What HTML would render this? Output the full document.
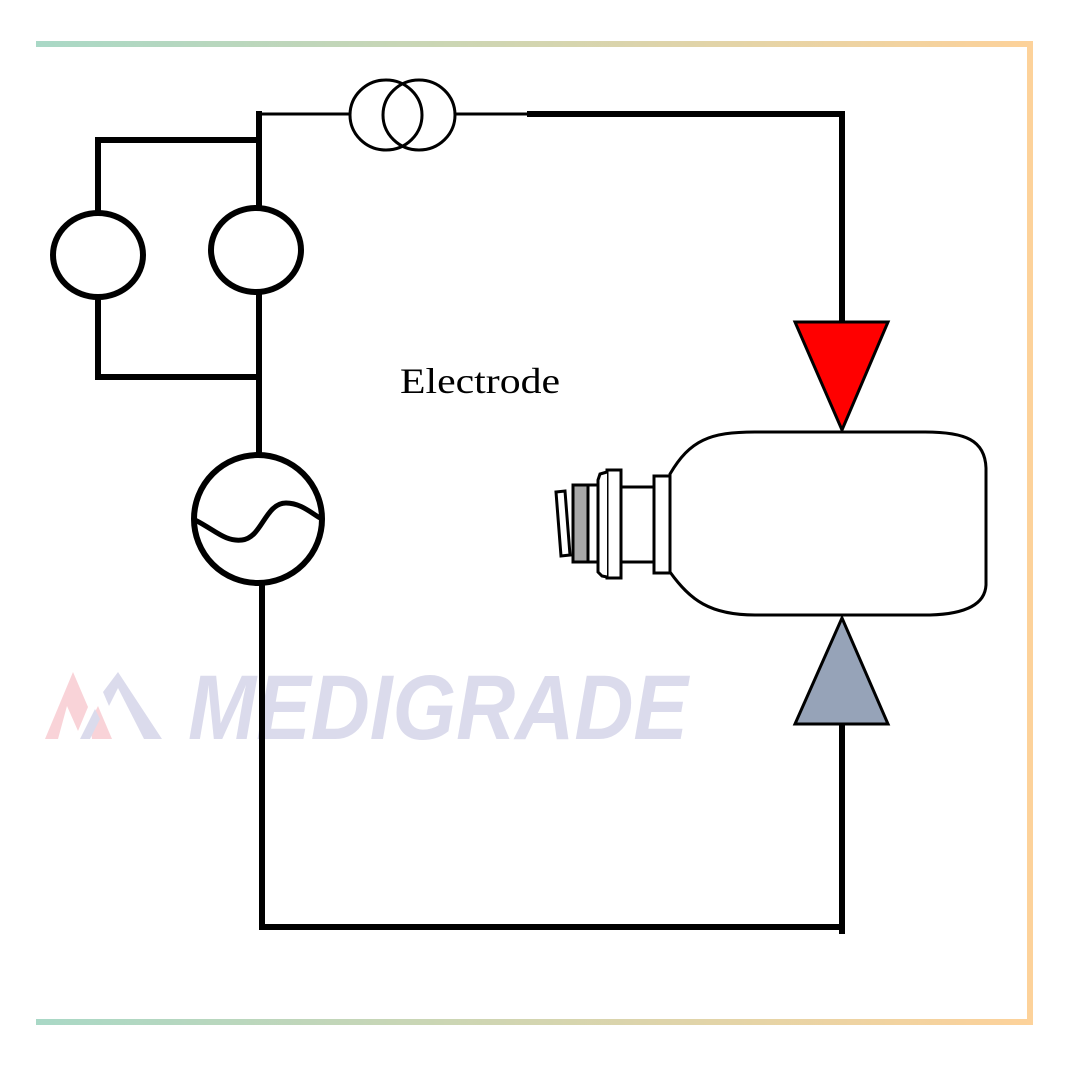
<!DOCTYPE html>
<html><head><meta charset="utf-8"><style>html,body{margin:0;padding:0;background:#fff}svg{display:block}</style></head>
<body>
<svg width="1080" height="1080" viewBox="0 0 1080 1080" xmlns="http://www.w3.org/2000/svg">
<defs>
<linearGradient id="g" x1="0" x2="1" y1="0" y2="0">
<stop offset="0" stop-color="#a9d8c6"/><stop offset="1" stop-color="#fdd29a"/></linearGradient>
</defs>
<rect x="36" y="41" width="996" height="6" fill="url(#g)"/>
<rect x="36" y="1019" width="996" height="6" fill="url(#g)"/>
<rect x="1027" y="41" width="6" height="984" fill="#fdd29a"/>

<!-- watermark -->
<g opacity="0.9">
<polygon points="45,739 73,672 88,707 78,731 67,706 58,739" fill="#f9cfd4"/>
<polygon points="92,739 112,739 98,706 90,722" fill="#f9cfd4"/>
<polygon points="118,672 162,739 144,739 118,688 109,706 103,692" fill="#d8d8ea"/>
<polygon points="80,739 90,739 100,719 95,709" fill="#d8d8ea"/>
<text x="188" y="739" font-family="Liberation Sans, sans-serif" font-weight="bold" font-style="italic" font-size="92" fill="#d8d8ea" textLength="500" lengthAdjust="spacingAndGlyphs">MEDIGRADE</text>
</g>

<g fill="none" stroke="#000" stroke-width="6">
<line x1="259" y1="114" x2="350" y2="114" stroke-width="3"/>
<ellipse cx="386" cy="115" rx="36" ry="35" stroke-width="3"/>
<ellipse cx="419" cy="115" rx="36" ry="35" stroke-width="3"/>
<line x1="455" y1="114" x2="527" y2="114" stroke-width="3"/>
<polyline points="527,114 842,114 842,324"/>
<line x1="259" y1="111" x2="259" y2="207"/>
<polyline points="259,140 98,140 98,212"/>
<ellipse cx="98" cy="255" rx="45" ry="42"/>
<polyline points="98,298 98,377 259,377"/>
<ellipse cx="256" cy="250" rx="45" ry="42"/>
<line x1="259" y1="293" x2="259" y2="455"/>
<circle cx="258" cy="519" r="64"/>
<path d="M195,520 C215,530 225,542 242,540 C262,538 265,503 286,503 C300,503 310,512 320,518" stroke-width="5"/>
<polyline points="262,583 262,927 842,927"/>
<line x1="842" y1="722" x2="842" y2="934"/>
</g>
<polygon points="795,322 888,322 842,430" fill="#ff0000" stroke="#000" stroke-width="3"/>
<polygon points="842,618 795,724 888,724" fill="#96a3b8" stroke="#000" stroke-width="3"/>

<g stroke="#000" stroke-width="3" fill="#fff">
<path d="M670,474 C690,440 710,432 755,432 L925,432 C965,432 985,440 986,468 L986,585 C985,605 965,614 930,615 L755,615 C710,615 690,600 670,572 Z"/>
<rect x="654" y="476" width="16" height="97"/>
<rect x="620" y="487" width="34" height="75"/>
<rect x="607" y="470" width="14" height="108"/>
<path d="M607,472 L600,474 L598,480 L598,572 L602,576 L607,577"/>
<rect x="588" y="485" width="10" height="77"/>
<rect x="573" y="485" width="15" height="77" fill="#a8a8a8"/>
<polygon points="556,492 565,491 570,555 561,556"/>
</g>

<text x="400" y="393" font-family="Liberation Serif, serif" font-size="36" fill="#000" textLength="160" lengthAdjust="spacingAndGlyphs">Electrode</text>
</svg>
</body></html>
